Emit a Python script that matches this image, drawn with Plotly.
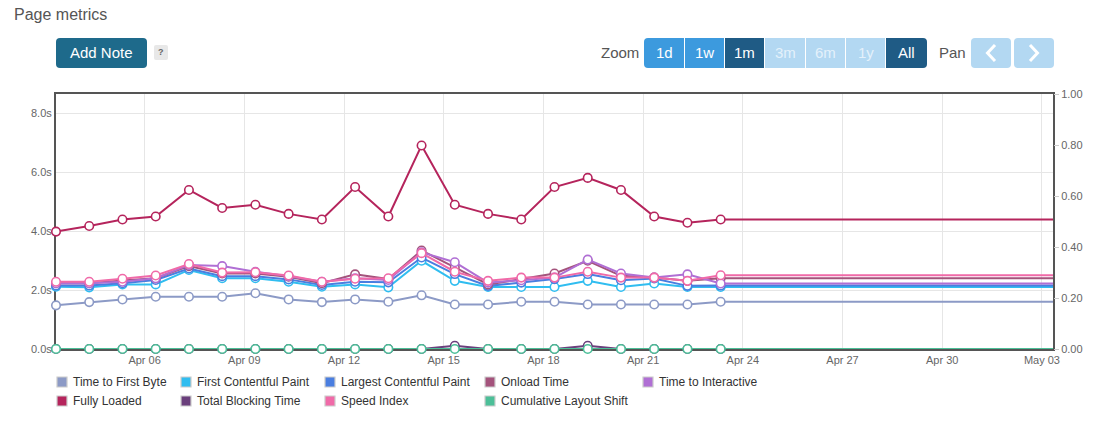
import plotly.graph_objects as go
from datetime import datetime, timedelta

# ---------------- data ----------------
start = datetime(2023, 4, 3, 8, 0)
dates = [start + timedelta(days=i) for i in range(21)]
ext_date = datetime(2023, 5, 3, 8, 0)

time_to_first_byte = [1.48, 1.59, 1.68, 1.77, 1.77, 1.77, 1.89, 1.68, 1.59, 1.68, 1.60,
                      1.82, 1.51, 1.51, 1.60, 1.60, 1.51, 1.51, 1.51, 1.51, 1.60]
first_contentful_paint = [2.11, 2.09, 2.19, 2.19, 2.68, 2.40, 2.40, 2.28, 2.11, 2.19, 2.09,
                          2.99, 2.31, 2.10, 2.10, 2.10, 2.31, 2.10, 2.22, 2.10, 2.10]
largest_contentful_paint = [2.15, 2.15, 2.23, 2.34, 2.73, 2.47, 2.47, 2.36, 2.17, 2.28, 2.26,
                            3.10, 2.54, 2.14, 2.25, 2.37, 2.54, 2.33, 2.39, 2.14, 2.15]
onload_time = [2.23, 2.23, 2.32, 2.40, 2.81, 2.56, 2.56, 2.45, 2.23, 2.53, 2.37,
               3.34, 2.77, 2.19, 2.37, 2.56, 2.99, 2.48, 2.42, 2.31, 2.40]
time_to_interactive = [2.23, 2.23, 2.28, 2.40, 2.85, 2.81, 2.62, 2.47, 2.28, 2.40, 2.34,
                       3.28, 2.94, 2.25, 2.33, 2.42, 3.03, 2.56, 2.42, 2.53, 2.22]
fully_loaded = [3.98, 4.17, 4.39, 4.49, 5.39, 4.78, 4.89, 4.58, 4.39, 5.49, 4.49,
                6.90, 4.89, 4.58, 4.39, 5.49, 5.80, 5.39, 4.49, 4.28, 4.39]
total_blocking_time = [0, 0, 0, 0, 0, 0, 0, 0, 0, 0, 0,
                       0, 0.11, 0, 0, 0, 0.11, 0, 0, 0, 0]
speed_index = [2.28, 2.28, 2.38, 2.49, 2.88, 2.59, 2.60, 2.49, 2.28, 2.38, 2.40,
               3.25, 2.62, 2.31, 2.42, 2.42, 2.62, 2.42, 2.42, 2.31, 2.50]
cumulative_layout_shift = [0] * 21

series_names = ["Time to First Byte", "First Contentful Paint", "Largest Contentful Paint",
                "Onload Time", "Time to Interactive", "Fully Loaded", "Total Blocking Time",
                "Speed Index", "Cumulative Layout Shift"]
series_values = [time_to_first_byte, first_contentful_paint, largest_contentful_paint,
                 onload_time, time_to_interactive, fully_loaded, total_blocking_time,
                 speed_index, cumulative_layout_shift]
series_colors = ["#8c9ac6", "#30bdf0", "#4a7ee0", "#a4537c", "#b06fd4",
                 "#b5245c", "#6a3f7c", "#f06aa8", "#4cbf98"]
series_axis = ["y", "y", "y", "y", "y", "y", "y", "y", "y2"]

left_ticks = [0, 2, 4, 6, 8]
left_tick_text = ["0.0s", "2.0s", "4.0s", "6.0s", "8.0s"]
right_ticks = [0, 0.2, 0.4, 0.6, 0.8, 1.0]
right_tick_text = ["0.00", "0.20", "0.40", "0.60", "0.80", "1.00"]
zoom_buttons = ["1d", "1w", "1m", "3m", "6m", "1y", "All"]

# ---------------- geometry helpers ----------------
W, H = 1094, 422
PL, PR, PT, PB = 56, 1053, 94, 349
FONT = "Liberation Sans, Arial, sans-serif"


def xp(px):
    return (px - PL) / (PR - PL)


def yp(py):
    return (PB - py) / (PB - PT)


def rrect(x0, y0, x1, y1, r, tl=True, tr=True, br=True, bl=True):
    def P(x, y):
        return f"{xp(x):.5f},{yp(y):.5f}"
    path = f"M {P(x0 + (r if tl else 0), y0)} "
    if tr:
        path += f"L {P(x1 - r, y0)} Q {P(x1, y0)} {P(x1, y0 + r)} "
    else:
        path += f"L {P(x1, y0)} "
    if br:
        path += f"L {P(x1, y1 - r)} Q {P(x1, y1)} {P(x1 - r, y1)} "
    else:
        path += f"L {P(x1, y1)} "
    if bl:
        path += f"L {P(x0 + r, y1)} Q {P(x0, y1)} {P(x0, y1 - r)} "
    else:
        path += f"L {P(x0, y1)} "
    if tl:
        path += f"L {P(x0, y0 + r)} Q {P(x0, y0)} {P(x0 + r, y0)} Z"
    else:
        path += f"L {P(x0, y0)} Z"
    return path


shapes = []
annotations = []


def add_rect(x0, y0, x1, y1, color, r=0, line=None, **corners):
    shapes.append(dict(type="path", xref="paper", yref="paper",
                       path=rrect(x0, y0, x1, y1, r, **corners),
                       fillcolor=color,
                       line=dict(width=line[1] if line else 0, color=line[0] if line else color),
                       layer="above"))


def add_text(x, y, text, size=12, color="#333", xanchor="left", bold=False):
    annotations.append(dict(xref="paper", yref="paper", x=xp(x), y=yp(y),
                            text=(f"<b>{text}</b>" if bold else text),
                            showarrow=False, xanchor=xanchor, yanchor="middle",
                            font=dict(family=FONT, size=size, color=color), borderpad=0))


# ---------------- figure ----------------
fig = go.Figure()
for name, vals, col, ax in zip(series_names, series_values, series_colors, series_axis):
    fig.add_trace(go.Scatter(
        x=dates + [ext_date], y=vals + [vals[-1]], name=name, yaxis=ax,
        mode="lines+markers",
        line=dict(color=col, width=2),
        marker=dict(size=[8.5] * len(vals) + [0], color="#ffffff", opacity=1, symbol="circle",
                    line=dict(color=col, width=1.6)),
        showlegend=False, cliponaxis=False))

# Title
add_text(13, 14, "Page metrics", size=16, color="#555")

# Add Note button + help box
add_rect(56, 38, 147, 68, "#1e6a8b", r=4)
add_text(101.5, 53, "Add Note", size=15, color="white", xanchor="center")
add_rect(154, 45, 168, 60, "#e8e8e8", r=2)
add_text(161, 52.5, "?", size=9, color="#666", xanchor="center", bold=True)

# Zoom buttons
add_text(640, 53, "Zoom", size=15, color="#555", xanchor="right")
btn_x = [(644, 684), (685, 724), (725, 764), (765, 805), (806, 845), (846, 885), (886, 927)]
btn_bg = ["#3c9ade", "#3c9ade", "#1f5b85", "#b3d8f2", "#b3d8f2", "#b3d8f2", "#1f5b85"]
btn_fg = ["white", "white", "white", "#e4f1fb", "#e4f1fb", "#e4f1fb", "white"]
for i, (lab, (a, b)) in enumerate(zip(zoom_buttons, btn_x)):
    first = i == 0
    last = i == len(zoom_buttons) - 1
    add_rect(a, 38, b, 68, btn_bg[i], r=4 if (first or last) else 0,
             tl=first, bl=first, tr=last, br=last)
    add_text((a + b) / 2, 53, lab, size=15, color=btn_fg[i], xanchor="center")

# Pan buttons
add_text(967, 53, "Pan", size=15, color="#555", xanchor="right")
add_rect(971, 38, 1011, 68, "#b3d8f2", r=4)
add_rect(1014, 38, 1054, 68, "#b3d8f2", r=4)
for pts in ([(995, 45), (987.5, 53), (995, 61)], [(1030, 45), (1037.5, 53), (1030, 61)]):
    path = "M " + " L ".join(f"{xp(x):.5f},{yp(y):.5f}" for x, y in pts)
    shapes.append(dict(type="path", xref="paper", yref="paper", path=path,
                       line=dict(color="white", width=3), layer="above"))

# Manual legend (two rows, Highcharts-style column layout)
leg_cols = [57, 181, 325, 485, 643]
leg_rows = [382, 401]
for i, (name, col) in enumerate(zip(series_names, series_colors)):
    r, c = divmod(i, 5)
    bx, by = leg_cols[c], leg_rows[r]
    add_rect(bx, by - 5, bx + 10, by + 5, col, r=0, line=("#cccccc", 1.2))
    add_text(bx + 15, by, name, size=12, color="#333")

fig.update_layout(
    width=W, height=H,
    margin=dict(l=PL, r=W - PR, t=PT, b=H - PB, pad=0),
    paper_bgcolor="white", plot_bgcolor="white",
    font=dict(family=FONT, size=11, color="#666"),
    showlegend=False,
    hovermode=False,
    xaxis=dict(type="date", range=[start, ext_date],
               tick0="2023-04-06", dtick=3 * 86400000, tickformat="%b %d",
               showgrid=True, gridcolor="#e6e6e6", gridwidth=1,
               showline=True, linecolor="#555", linewidth=2, mirror=True,
               layer="below traces",
               ticks="", tickfont=dict(size=11, color="#666"), zeroline=False),
    yaxis=dict(range=[0, 8.644], tickvals=left_ticks, ticktext=left_tick_text,
               showgrid=True, gridcolor="#e6e6e6", gridwidth=1,
               showline=True, linecolor="#555", linewidth=2, mirror=True,
               layer="below traces",
               ticks="", tickfont=dict(size=11, color="#666"), zeroline=False),
    yaxis2=dict(range=[0, 1], overlaying="y", side="right",
                tickvals=right_ticks, ticktext=right_tick_text,
                showgrid=False, zeroline=False, showline=False,
                ticks="outside", ticklen=5, tickcolor="#cccccc",
                tickfont=dict(size=11, color="#666")),
    shapes=shapes,
    annotations=annotations,
)

fig.write_html("out.html")
